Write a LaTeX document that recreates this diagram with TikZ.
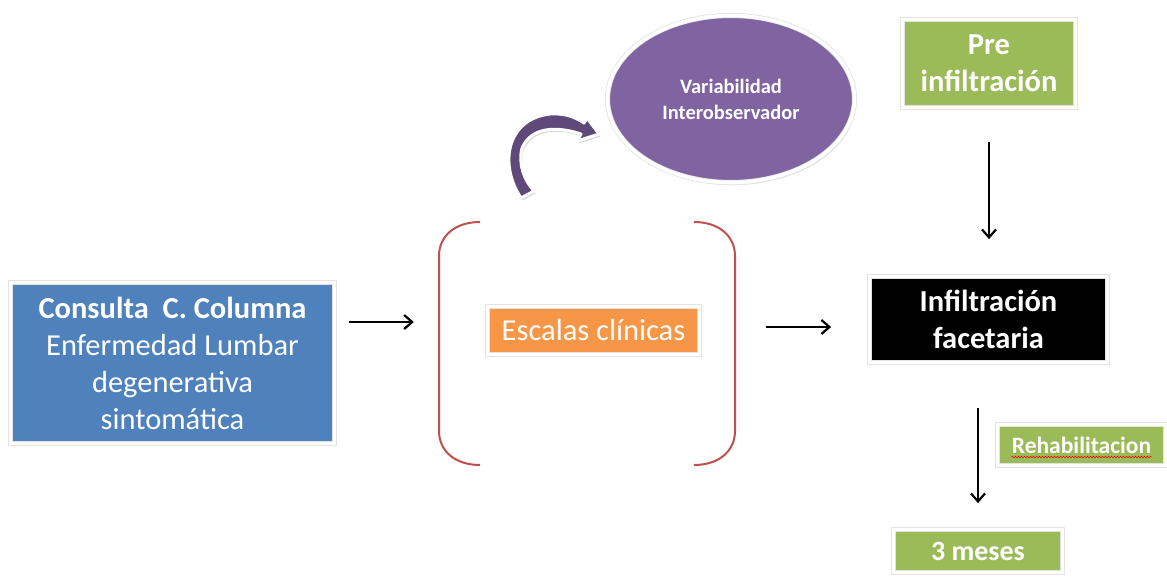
\documentclass[tikz,border=0pt]{standalone}
\usepackage{fontspec}
\setmainfont{Carlito}
\usetikzlibrary{shapes.geometric,shadows,arrows.meta,calc,decorations.pathmorphing}
\definecolor{cblue}{HTML}{4F81BD}
\definecolor{corange}{HTML}{F79646}
\definecolor{cpurple}{HTML}{8064A2}
\definecolor{cdpurple}{HTML}{5F497A}
\definecolor{cgreen}{HTML}{9BBB59}
\definecolor{cred}{HTML}{C0504D}
\begin{document}
\begin{tikzpicture}[x=1pt,y=-1pt,
  shad/.style={drop shadow={shadow xshift=1.5pt, shadow yshift=-2.5pt, opacity=0.15, fill=black}},
  frame/.style={draw=black!11, line width=0.8pt, double=white, double distance=3.5pt},
  box/.style={frame, inner sep=0pt, align=center, text=white, shad},
  arr/.style={-{Straight Barb[length=8pt,width=14pt]}, line width=2.2pt, black},
  bigr/.style={font=\fontsize{30.5}{37}\selectfont},
  bigb/.style={font=\bfseries\fontsize{30.5}{37}\selectfont}]
\useasboundingbox (0,0) rectangle (1167,582);
% boxes
\node[box, fill=cblue, minimum width=324pt, minimum height=161pt, bigr] (cons) at (172.5,363)
  {\textbf{Consulta~ C. Columna}\\Enfermedad Lumbar\\degenerativa\\sintomática};
\node[box, fill=corange, minimum width=212pt, minimum height=48pt, bigr] (esc) at (593.5,330.5) {Escalas clínicas};
\node[ellipse, frame, fill=cpurple, minimum width=247pt, minimum height=167pt,
  inner sep=0pt, text=white, align=center, font=\bfseries\fontsize{20.5}{26}\selectfont, shad] (var) at (731,99)
  {Variabilidad\\Interobservador};
\node[box, fill=cgreen, minimum width=173pt, minimum height=88pt, bigb] (pre) at (989,63.5) {Pre\\infiltración};
\node[box, fill=black, minimum width=238pt, minimum height=86pt, bigb] (inf) at (988.5,319.5) {Infiltración\\facetaria};
\node[box, fill=cgreen, minimum width=168pt, minimum height=41pt, font=\bfseries\fontsize{23.5}{28}\selectfont] (reh) at (1081.5,445) {Rehabilitacion};
\node[box, fill=cgreen, minimum width=169pt, minimum height=43pt, font=\bfseries\fontsize{28}{34}\selectfont] (tres) at (978,551) {3 meses};
% bracket group
\node[minimum width=296pt, minimum height=243pt, inner sep=0pt] (br) at (587,343.5) {};
\draw[cred, line width=2pt] (480,222) .. controls (455,222) and (439,236) .. (439,256) -- (439,431)
  .. controls (439,451) and (455,465) .. (480,465);
\draw[cred, line width=2pt] (694,222) .. controls (719,222) and (735,236) .. (735,256) -- (735,431)
  .. controls (735,451) and (719,465) .. (694,465);
% curved block arrow
\filldraw[fill=cdpurple, draw=white, line width=3pt, line join=round, shad]
  (521,198) .. controls (499,165) and (506,119) .. (550,114) .. controls (565,113) and (575,117) .. (584,123)
  -- (587,118) -- (599,134) -- (577,141) -- (581,134)
  .. controls (560,127) and (532,125) .. (522,148) .. controls (518,164) and (524,180) .. (534,191) -- cycle;
% connectors
\coordinate (a1) at ([yshift=41pt]cons.east);
\draw[arr, shorten <=14pt, shorten >=25pt] (a1) -- (a1 -| br.west);
\coordinate (a2) at ($(br.east |- esc.east)+(0,-3.5)$);
\draw[arr, shorten <=31pt, shorten >=38pt] (a2) -- (a2 -| inf.west);
\draw[arr, shorten <=34pt, shorten >=37pt] (pre.south) -- (pre.south |- inf.north);
\draw[arr, shorten <=45pt, shorten >=26pt] (inf.south -| tres.north) -- (tres.north);
% spell-check wave
\draw[red, line width=0.6pt, decorate, decoration={snake, amplitude=0.7pt, segment length=3pt}]
  ($(reh.center)+(-70,12)$) -- ($(reh.center)+(70,12)$);
\end{tikzpicture}
\end{document}
